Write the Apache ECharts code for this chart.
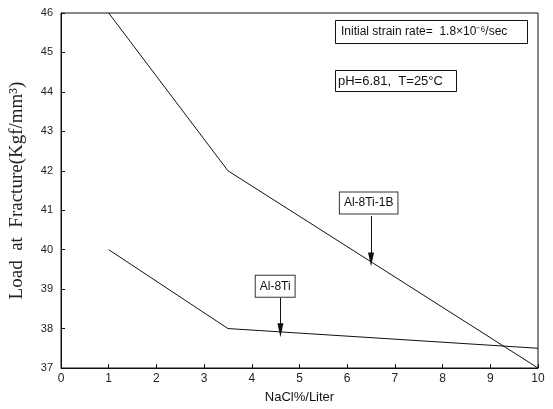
<!DOCTYPE html>
<html>
<head>
<meta charset="utf-8">
<script src="https://cdn.jsdelivr.net/npm/echarts@6/dist/echarts.min.js"></script>
<style>
html, body {margin:0; padding:0; background:#fff;}
#chart {width:553px; height:409px;}
</style>
</head>
<body>
<div id="chart"></div>
<script>
// NaCl concentration (%/liter) and load at fracture (Kgf/mm3)
var nacl = [1, 3.5, 10];
var load_al8ti1b = [46, 42, 37];
var load_al8ti = [40, 38, 37.5];

var x_ticks = [0, 1, 2, 3, 4, 5, 6, 7, 8, 9, 10];
var y_ticks = [37, 38, 39, 40, 41, 42, 43, 44, 45, 46];

function pairs(xs, ys){
	var out = [];
	for(var i = 0; i < xs.length; i++){
		out.push([xs[i], ys[i]]);
	}
	return out;
}

var box_label = {
	show: true,
	position: 'inside',
	color: '#111',
	fontFamily: 'Liberation Sans',
	fontSize: 12,
	backgroundColor: '#fff',
	borderColor: '#333',
	borderWidth: 1,
	padding: [5, 4, 4, 4],
	formatter: '{b}'
};

function arrow(from, to){
	return {
		symbol: ['none', 'triangle'],
		symbolSize: [6, 14],
		silent: true,
		animation: false,
		lineStyle: {color: '#111', width: 1, type: 'solid'},
		label: {show: false},
		data: [[{coord: from}, {coord: to}]]
	};
}

var myChart = echarts.init(document.getElementById('chart'), null, {renderer: 'canvas'});

myChart.setOption({
	animation: false,
	grid: {
		left: 61, right: 15, top: 13, bottom: 40,
		show: true, borderColor: '#111', borderWidth: 1
	},
	title: [
		{
			text: 'Initial strain rate=  1.8×10⁻⁶/sec',
			left: 335, top: 20,
			padding: [6, 20, 6, 6],
			borderColor: '#111', borderWidth: 1,
			textStyle: {fontFamily: 'Liberation Sans', fontSize: 12, fontWeight: 'normal', color: '#111'}
		},
		{
			text: 'pH=6.81,  T=25°C',
			left: 335, top: 70,
			padding: [5, 14, 4, 3],
			borderColor: '#111', borderWidth: 1,
			textStyle: {fontFamily: 'Liberation Sans', fontSize: 13, fontWeight: 'normal', color: '#111'}
		}
	],
	xAxis: {
		type: 'value',
		min: 0, max: 10, interval: 1,
		name: 'NaCl%/Liter',
		nameLocation: 'middle',
		nameGap: 23,
		nameTextStyle: {fontFamily: 'Liberation Sans', fontSize: 13, color: '#111'},
		axisLine: {lineStyle: {color: '#111', width: 1}},
		axisTick: {inside: true, length: 4, lineStyle: {color: '#111'}},
		axisLabel: {
			margin: 5,
			fontFamily: 'Liberation Sans', fontSize: 12, color: '#222',
			customValues: x_ticks
		},
		splitLine: {show: false}
	},
	yAxis: {
		type: 'value',
		min: 37, max: 46, interval: 1,
		name: 'Load  at  Fracture(Kgf/mm³)',
		nameLocation: 'middle',
		nameGap: 34,
		nameTextStyle: {fontFamily: 'Liberation Serif', fontSize: 19, color: '#222'},
		axisLine: {lineStyle: {color: '#111', width: 1}},
		axisTick: {inside: true, length: 4, lineStyle: {color: '#111'}},
		axisLabel: {
			margin: 8,
			fontFamily: 'Liberation Sans', fontSize: 11, color: '#222',
			customValues: y_ticks
		},
		splitLine: {show: false}
	},
	series: [
		{
			name: 'Al-8Ti-1B',
			type: 'line',
			data: pairs(nacl, load_al8ti1b),
			symbol: 'none',
			lineStyle: {color: '#111', width: 1},
			markPoint: {
				symbol: 'rect', symbolSize: 1, silent: true,
				itemStyle: {color: 'transparent'},
				label: box_label,
				data: [{name: 'Al-8Ti-1B', coord: [6.45, 41.18]}]
			},
			markLine: arrow([6.5, 40.85], [6.5, 39.75])
		},
		{
			name: 'Al-8Ti',
			type: 'line',
			data: pairs(nacl, load_al8ti),
			symbol: 'none',
			lineStyle: {color: '#111', width: 1},
			markPoint: {
				symbol: 'rect', symbolSize: 1, silent: true,
				itemStyle: {color: 'transparent'},
				label: box_label,
				data: [{name: 'Al-8Ti', coord: [4.49, 39.07]}]
			},
			markLine: arrow([4.6, 38.78], [4.6, 37.96])
		}
	]
});
</script>
</body>
</html>
